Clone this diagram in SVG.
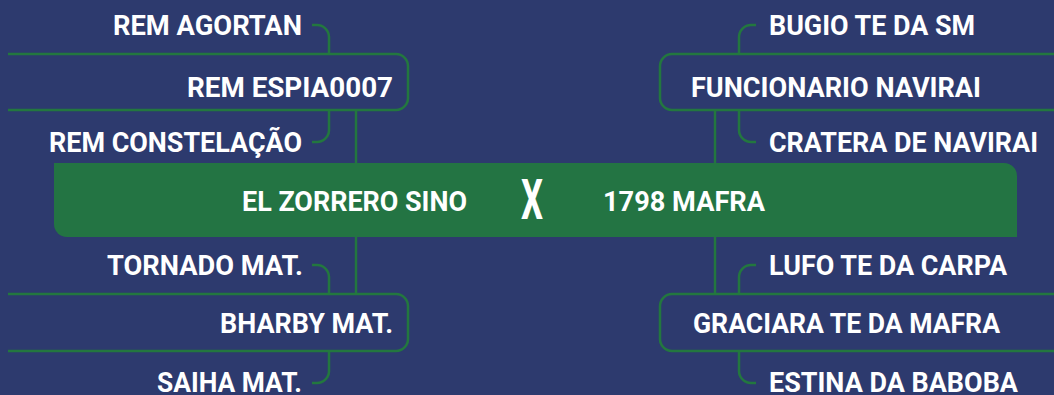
<svg xmlns="http://www.w3.org/2000/svg" width="1054" height="395" viewBox="0 0 1054 395">
<style>
.t{font-family:Roboto,"Liberation Sans",sans-serif;font-weight:700;font-size:28px;fill:#ffffff;}
.ln{fill:none;stroke:#23773f;stroke-width:2.5;}
</style>
<rect x="0" y="0" width="1054" height="395" fill="#2d3a6e"/>
<g id="connectors" class="ln">
<path d="M312,25 H317 A12,12 0 0 1 329,37 V54"/>
<path d="M329,110 V130 A12,12 0 0 1 317,142 H312"/>
<path d="M356,110 V163"/>
<path d="M356,237 V294"/>
<path d="M312,265 H317 A12,12 0 0 1 329,277 V294"/>
<path d="M329,351 V371 A12,12 0 0 1 317,383 H312"/>
<path d="M756,25 H751 A12,12 0 0 0 739,37 V54"/>
<path d="M739,110 V130 A12,12 0 0 0 751,142 H756"/>
<path d="M715,110 V163"/>
<path d="M715,237 V294"/>
<path d="M756,265 H751 A12,12 0 0 0 739,277 V294"/>
<path d="M739,351 V371 A12,12 0 0 0 751,383 H756"/>
</g>
<g id="center">
<path d="M54,163 H1004 A13,13 0 0 1 1017,176 V237 H67 A13,13 0 0 1 54,224 Z" fill="#237443"/>
<text class="t" x="242" y="211" textLength="225" lengthAdjust="spacingAndGlyphs">EL ZORRERO SINO</text>
<text class="t" x="521" y="219" style="font-size:56px" textLength="22" lengthAdjust="spacingAndGlyphs">X</text>
<text class="t" x="603" y="211" textLength="162" lengthAdjust="spacingAndGlyphs">1798 MAFRA</text>
</g>
<g id="rem-agortan"><text class="t" x="113" y="35" textLength="189" lengthAdjust="spacingAndGlyphs">REM AGORTAN</text></g>
<g id="rem-espia0007">
<path class="ln" d="M8,54 H396 A12,12 0 0 1 408,66 V98 A12,12 0 0 1 396,110 H8"/>
<text class="t" x="187" y="97" textLength="206" lengthAdjust="spacingAndGlyphs">REM ESPIA0007</text>
</g>
<g id="rem-constelacao"><text class="t" x="49" y="152" textLength="253" lengthAdjust="spacingAndGlyphs">REM CONSTELAÇÃO</text></g>
<g id="bugio"><text class="t" x="769" y="35" textLength="206" lengthAdjust="spacingAndGlyphs">BUGIO TE DA SM</text></g>
<g id="funcionario">
<path class="ln" d="M1054,54 H672 A12,12 0 0 0 660,66 V98 A12,12 0 0 0 672,110 H1054"/>
<text class="t" x="691" y="97" textLength="290" lengthAdjust="spacingAndGlyphs">FUNCIONARIO NAVIRAI</text>
</g>
<g id="cratera"><text class="t" x="769" y="152" textLength="269" lengthAdjust="spacingAndGlyphs">CRATERA DE NAVIRAI</text></g>
<g id="tornado"><text class="t" x="107" y="275" textLength="196" lengthAdjust="spacingAndGlyphs">TORNADO MAT.</text></g>
<g id="bharby">
<path class="ln" d="M8,294 H396 A12,12 0 0 1 408,306 V339 A12,12 0 0 1 396,351 H8"/>
<text class="t" x="220" y="333" textLength="173" lengthAdjust="spacingAndGlyphs">BHARBY MAT.</text>
</g>
<g id="saiha"><text class="t" x="157" y="392" textLength="145" lengthAdjust="spacingAndGlyphs">SAIHA MAT.</text></g>
<g id="lufo"><text class="t" x="769" y="275" textLength="238" lengthAdjust="spacingAndGlyphs">LUFO TE DA CARPA</text></g>
<g id="graciara">
<path class="ln" d="M1054,294 H672 A12,12 0 0 0 660,306 V339 A12,12 0 0 0 672,351 H1054"/>
<text class="t" x="693" y="333" textLength="307" lengthAdjust="spacingAndGlyphs">GRACIARA TE DA MAFRA</text>
</g>
<g id="estina"><text class="t" x="769" y="392" textLength="249" lengthAdjust="spacingAndGlyphs">ESTINA DA BABOBA</text></g>
</svg>
